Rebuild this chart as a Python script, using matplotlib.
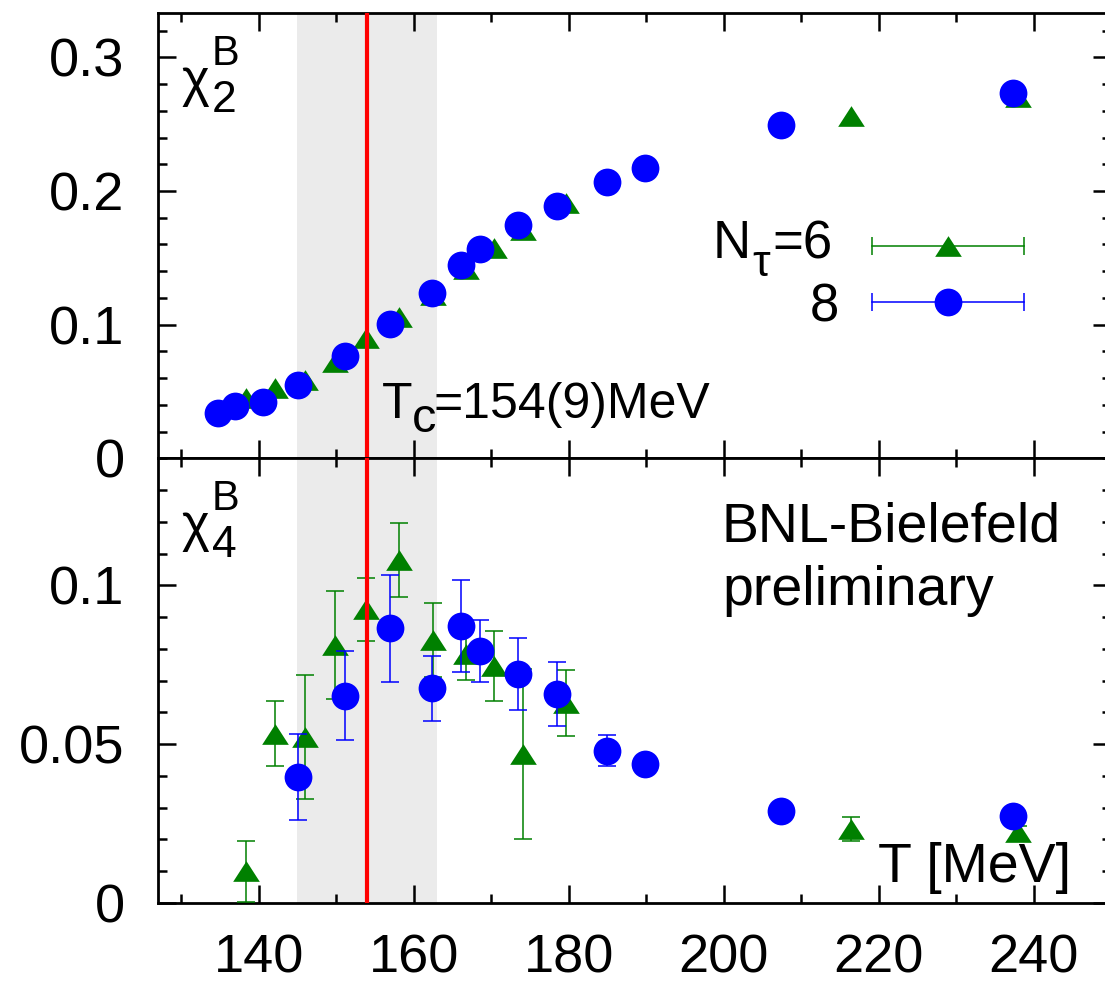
import numpy as np
import matplotlib
matplotlib.use('Agg')
import matplotlib.pyplot as plt
from matplotlib.ticker import MultipleLocator, FixedLocator, FixedFormatter

plt.rcParams['font.family'] = ['Liberation Sans', 'DejaVu Sans']

nan = np.nan

# N_tau = 8 lattices (blue circles)
T8 = [134.8, 136.9, 140.6, 145.1, 151.1, 156.9, 162.3, 166.1, 168.6, 173.5,
      178.5, 185.0, 189.8, 207.4, 237.3]
chi2_8 = [0.0337, 0.0391, 0.0424, 0.0549, 0.0766, 0.1005, 0.1235, 0.1447,
          0.1564, 0.1746, 0.1888, 0.2070, 0.2171, 0.2495, 0.2732]
chi4_8 = [nan, nan, nan, 0.0397, 0.0653, 0.0865, 0.0676, 0.0873, 0.0793,
          0.0721, 0.0658, 0.0480, 0.0437, 0.0290, 0.0274]
chi4_8_err = [nan, nan, nan, 0.0136, 0.0141, 0.0169, 0.0103, 0.0145, 0.0097,
              0.0112, 0.0100, 0.0049, 0.0012, 0.0008, 0.0008]

# N_tau = 6 lattices (green triangles)
T6 = [138.3, 142.1, 146.0, 149.8, 153.9, 158.1, 162.5, 166.7, 170.4, 174.1,
      179.7, 216.4, 238.0]
chi2_6 = [0.0449, 0.0524, 0.0586, 0.0723, 0.0898, 0.1060, 0.1220, 0.1420,
          0.1570, 0.1710, 0.1910, 0.2564, 0.2704]
chi4_6 = [0.0100, 0.0533, 0.0523, 0.0812, 0.0924, 0.1080, 0.0828, 0.0785,
          0.0747, 0.0469, 0.0630, 0.0233, 0.0223]
chi4_6_err = [0.0096, 0.0102, 0.0196, 0.0170, 0.0098, 0.0116, 0.0115, 0.0082,
              0.0110, 0.0268, 0.0104, 0.0038, 0.0020]

Tc, dTc = 154, 9

top_ticks = [0, 0.1, 0.2, 0.3]
top_labels = ['0', '0.1', '0.2', '0.3']
bot_ticks = [0, 0.05, 0.1]
bot_labels = ['0', '0.05', '0.1']

GREEN = '#008000'
BLUE = '#0000ff'
FS = 39

W, H = 1105, 983
fig = plt.figure(figsize=(W / 100, H / 100), dpi=100)

left, right = 158, 1111
ax1 = fig.add_axes([left / W, 1 - 458.3 / H, (right - left) / W, 445 / H])
ax2 = fig.add_axes([left / W, 1 - 903 / H, (right - left) / W, 444.7 / H])

# flat triangle, a bit wider than tall
tri = [(-1, -0.775), (1, -0.775), (0, 0.775)]


def style(ax, ylim, minor, ticks, labels):
    ax.set_xlim(127, 250)
    ax.set_ylim(*ylim)
    ax.xaxis.set_major_locator(MultipleLocator(20))
    ax.xaxis.set_minor_locator(MultipleLocator(10))
    ax.yaxis.set_major_locator(FixedLocator(ticks))
    ax.yaxis.set_major_formatter(FixedFormatter(labels))
    ax.yaxis.set_minor_locator(MultipleLocator(minor))
    ax.tick_params(which='both', direction='in', top=True, right=True,
                   width=1.8, labelsize=FS)
    ax.tick_params(which='major', length=13)
    ax.tick_params(which='minor', length=6.8)
    ax.tick_params(axis='y', pad=24)
    ax.tick_params(axis='x', pad=22)
    for s in ax.spines.values():
        s.set_linewidth(2)
    ax.axvspan(Tc - dTc, Tc + dTc, color='#ebebeb', zorder=0, lw=0)
    ax.axvline(Tc, color='#ff0000', lw=3, zorder=5)


style(ax1, (0, 0.333), 0.02, top_ticks, top_labels)
style(ax2, (0, 0.14), 0.01, bot_ticks, bot_labels)
ax1.tick_params(axis='x', labelbottom=False)

# chi_2
ax1.plot(T6, chi2_6, ls='none', marker=tri, ms=19.2, color=GREEN, mew=0, zorder=3)
ax1.plot(T8, chi2_8, ls='none', marker='o', ms=20, color=BLUE, mew=0, zorder=4)

# chi_4
eb6 = ax2.errorbar(T6, chi4_6, yerr=chi4_6_err, ls='none', marker=tri, ms=19.2,
                   color=GREEN, elinewidth=1.1, capsize=6.5, capthick=1.1,
                   zorder=3)
eb8 = ax2.errorbar(T8, chi4_8, yerr=chi4_8_err, ls='none', marker='o', ms=20,
                   color=BLUE, elinewidth=1.1, capsize=6.5, capthick=1.1,
                   zorder=4)
eb6[0].set_markeredgewidth(0)
eb8[0].set_markeredgewidth(0)


def ftext(x, y, s, size=FS, **kw):
    fig.text(x / W, 1 - y / H, s, fontsize=size, va='baseline', **kw)


# panel labels
for y0, sub in ((13.3, '2'), (458.3, '4')):
    ftext(181, y0 + 82.7, 'χ', size=38)
    ftext(212, y0 + 98.4, sub, size=32)
    ftext(212, y0 + 52.0, 'B', size=30)

# T_c annotation
ftext(382, 418.3, 'T', size=36)
ftext(412, 432.5, 'c', size=35)
ftext(433, 418.3, '=154(9)MeV', size=36)

# legend
ftext(713, 258.3, 'N', size=38)
ftext(752, 276, 'τ', size=32)
ftext(772, 258.3, '=6', size=38)
ftext(839, 321.7, '8', size=38, ha='right')
for yl, col, mk, ms in ((246, GREEN, tri, 19.2), (301.7, BLUE, 'o', 20)):
    xs = [(871.7 - left) / (right - left), (1024.3 - left) / (right - left)]
    yy = (458.3 - yl) / 445
    ax1.plot(xs, [yy, yy], color=col, lw=1.1, transform=ax1.transAxes,
             marker='|', ms=13, mew=1.1, zorder=6, clip_on=False)
    ax1.plot([(947.7 - left) / (right - left)], [yy], marker=mk, ms=ms,
             color=col, mew=0, transform=ax1.transAxes, zorder=7)

ftext(722, 541.7, 'BNL-Bielefeld', size=40)
ftext(722, 604.7, 'preliminary', size=40)
ftext(878, 881.8, 'T [MeV]', size=40)

fig.savefig('out.png', dpi=100)
